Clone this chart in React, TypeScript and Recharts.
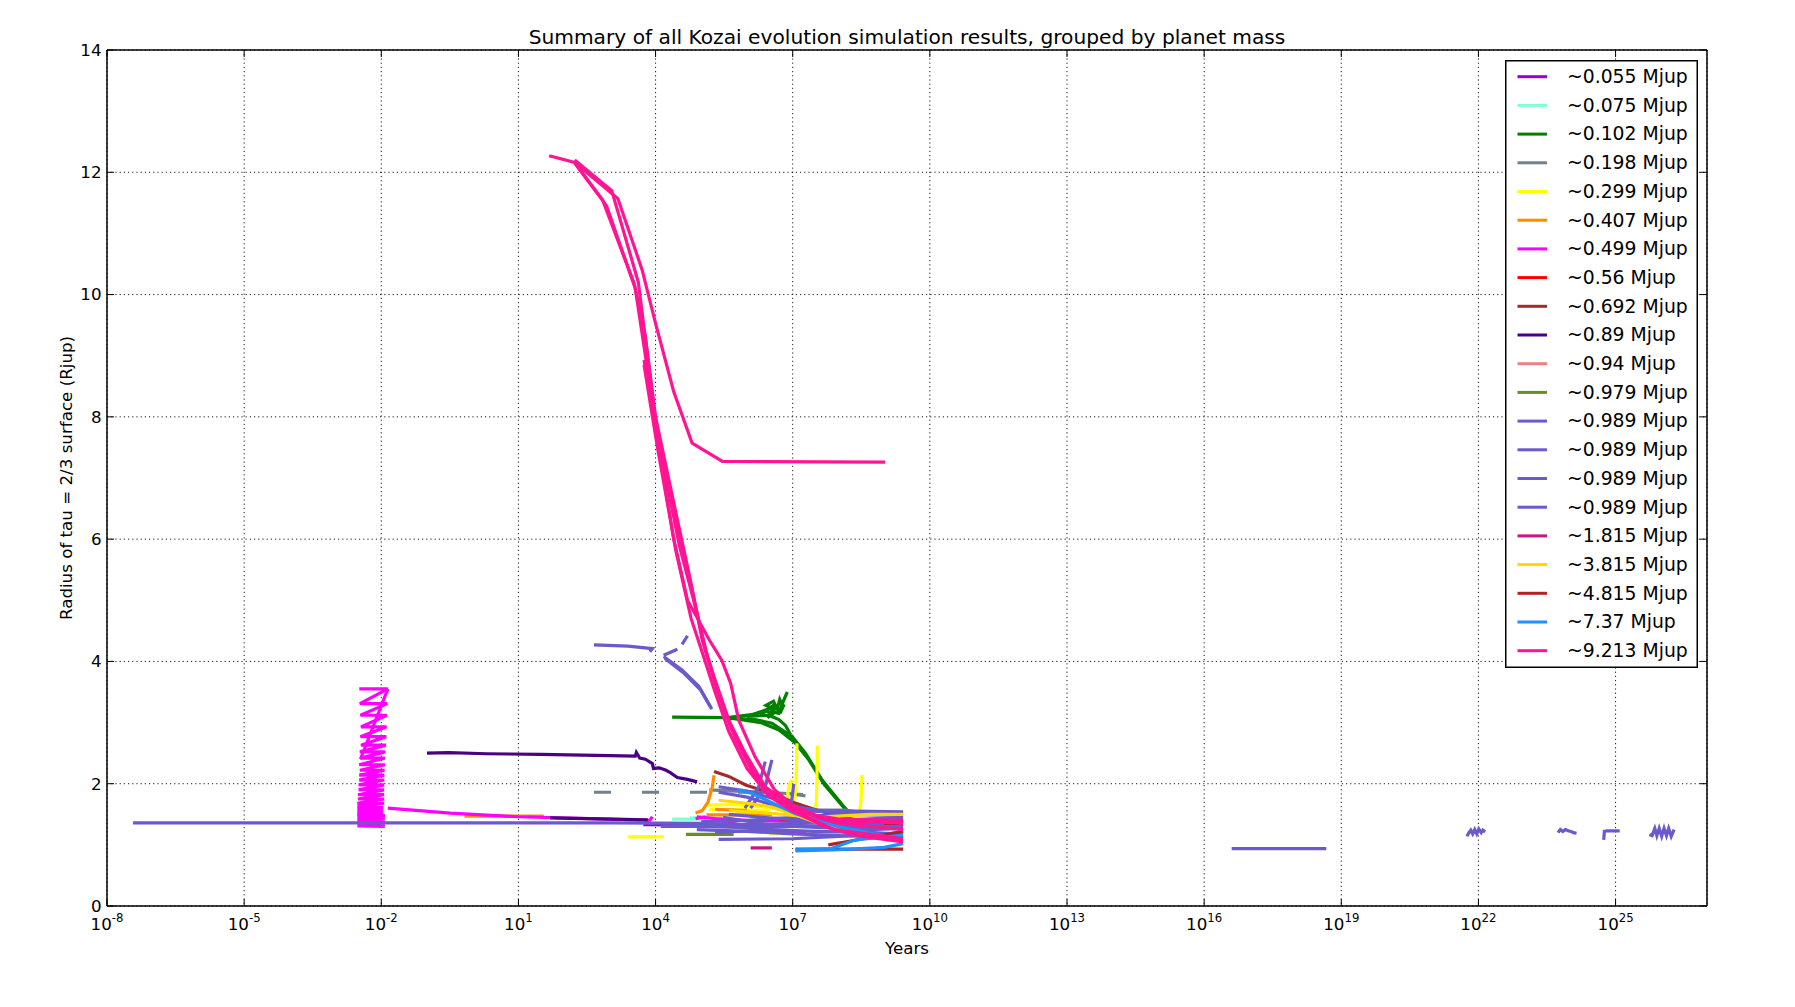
import React from "react";
import { LineChart, Line, XAxis, YAxis, CartesianGrid, Legend, Label } from "recharts";

// ---------- layout (not data) ----------
const W = 1795;
const H = 1007;
const PLOT_LEFT = 107;
const PLOT_TOP = 50;
const PLOT_RIGHT = 1707;
const PLOT_BOTTOM = 906;
const FONT = "'DejaVu Sans', 'Bitstream Vera Sans', sans-serif";

// ---------- axes ----------
const X_DOMAIN: [number, number] = [1e-8, 1e27];
const X_TICKS = [1e-8, 1e-5, 1e-2, 1e1, 1e4, 1e7, 1e10, 1e13, 1e16, 1e19, 1e22, 1e25];
const Y_DOMAIN: [number, number] = [0, 14];
const Y_TICKS = [0, 2, 4, 6, 8, 10, 12, 14];

const TITLE = "Summary of all Kozai evolution simulation results, grouped by planet mass";
const X_LABEL = "Years";
const Y_LABEL = "Radius of tau = 2/3 surface (Rjup)";

// ---------- legend ----------
const LEGEND_LABELS = [
  "~0.055 Mjup", "~0.075 Mjup", "~0.102 Mjup", "~0.198 Mjup", "~0.299 Mjup",
  "~0.407 Mjup", "~0.499 Mjup", "~0.56 Mjup", "~0.692 Mjup", "~0.89 Mjup",
  "~0.94 Mjup", "~0.979 Mjup", "~0.989 Mjup", "~0.989 Mjup", "~0.989 Mjup",
  "~0.989 Mjup", "~1.815 Mjup", "~3.815 Mjup", "~4.815 Mjup", "~7.37 Mjup",
  "~9.213 Mjup",
];
const LEGEND_COLORS = [
  "#9400D3", "#7FFFD4", "#008000", "#708090", "#FFFF00",
  "#FF8C00", "#FF00FF", "#FF0000", "#A52A2A", "#4B0082",
  "#F08080", "#6B8E23", "#6A5ACD", "#6A5ACD", "#6A5ACD",
  "#6A5ACD", "#C71585", "#FFD700", "#B22222", "#1E90FF",
  "#FF1493",
];

type Pt = [number, number]; // [years, radius in Rjup]

// ---------- series (years, Rjup) ----------
const M0055: Pt[][] = [
  [[5.4e3, 1.33], [5.4e5, 1.32]],
];
const M0075: Pt[][] = [
  [[2.3e4, 1.42], [1.3e5, 1.42]],
  [[5.5e4, 1.44], [1.1e5, 1.44]],
];
const M0102: Pt[][] = [
  [[2.3e4, 3.09], [4e5, 3.08], [1.5e6, 3.14], [3e6, 3.22], [4e6, 3.3], [3.4e6, 3.18], [5e6, 3.15], [6e6, 3.32], [7.6e6, 3.5]],
  [[4e5, 3.08], [1.2e6, 3.12], [2.5e6, 3.2], [3.6e6, 3.14], [2.8e6, 3.08], [4.5e6, 3.26], [5.5e6, 3.18], [6.5e6, 3.3], [5.8e6, 3.22]],
  [[4e5, 3.07], [1.5e6, 3.05], [3.5e6, 2.99], [9.8e6, 2.77], [1.9e7, 2.5], [4.4e7, 2.06], [1.4e8, 1.6], [1.8e8, 1.52]],
  [[4e5, 3.08], [2e6, 3.0], [5e6, 2.88], [1.1e7, 2.68], [2.2e7, 2.4], [5e7, 1.98], [1.5e8, 1.56]],
  [[1e6, 3.1], [3e6, 3.12], [5e6, 3.05], [7e6, 2.95], [9e6, 2.8]],
  [[2e6, 3.12], [3.2e6, 3.25], [2.6e6, 3.28], [3.8e6, 3.35], [4.6e6, 3.22], [5.2e6, 3.38], [6.2e6, 3.25]],
];
const M0198_DASHED: Pt[][] = [
  [[4.5e2, 1.86], [1.3e5, 1.86], [2e6, 1.86], [2e7, 1.82]],
];
const M0198: Pt[][] = [
  [[1.5e5, 1.9], [1e6, 1.87], [8e6, 1.84], [1.9e7, 1.8]],
  [[1e7, 1.7], [3e7, 1.57], [1.4e8, 1.57], [6e8, 1.5]],
];
const M0299: Pt[][] = [
  [[2.5e3, 1.13], [1.5e4, 1.13]],
  [[1.3e5, 1.65], [5e5, 1.66], [2e6, 1.62], [6e6, 1.58]],
  [[1.5e5, 1.58], [8e5, 1.58], [3e6, 1.55]],
  [[3e6, 1.18], [5e7, 1.2], [3e8, 1.22]],
  [[8.2e6, 1.73], [7.8e6, 1.85], [8.6e6, 2.0], [9.8e6, 2.06]],
  [[9e6, 1.5], [1.05e7, 1.62], [1.18e7, 1.95], [1.24e7, 2.66]],
  [[3.0e7, 1.52], [3.3e7, 1.7], [3.4e7, 2.1], [3.45e7, 2.62]],
  [[2.9e8, 1.55], [3.1e8, 1.7], [3.2e8, 1.9], [3.25e8, 2.14]],
];
const M0407: Pt[][] = [
  [[6.6e-1, 1.47], [3.6e1, 1.47]],
  [[7.5e4, 1.52], [1.05e5, 1.56], [1.4e5, 1.7], [1.75e5, 1.95], [1.9e5, 2.14]],
  [[1.3e5, 1.49], [3.5e6, 1.49]],
  [[2e5, 1.58], [1e6, 1.56]],
];
const M0499: Pt[][] = [
  [
    [3.3e-3, 3.55], [1.39e-2, 3.55], [3.4e-3, 3.31], [1.35e-2, 3.31], [3.5e-3, 3.12], [1.32e-2, 3.12],
    [3.6e-3, 2.93], [1.3e-2, 2.93], [3.5e-3, 2.77], [1.28e-2, 2.77], [3.6e-3, 2.63], [1.26e-2, 2.63],
    [3.4e-3, 2.52], [1.22e-2, 2.52], [3.5e-3, 2.42], [1.2e-2, 2.42], [3.3e-3, 2.31], [1.2e-2, 2.31],
    [3.4e-3, 2.22], [1.18e-2, 2.22], [3.3e-3, 2.14], [1.16e-2, 2.14], [3.3e-3, 2.06], [1.16e-2, 2.06],
    [3.2e-3, 1.98], [1.15e-2, 1.98], [3.2e-3, 1.9], [1.15e-2, 1.9], [3.1e-3, 1.82], [1.15e-2, 1.82],
    [3.1e-3, 1.75], [1.15e-2, 1.75], [3.0e-3, 1.68], [1.15e-2, 1.68], [3.0e-3, 1.62], [1.1e-2, 1.61],
    [3.0e-3, 1.58], [1.1e-2, 1.57], [3.0e-3, 1.54], [1.1e-2, 1.53], [3.0e-3, 1.5],
  ],
  [
    [3.0e-3, 1.49], [1.2e-2, 1.48], [3.0e-3, 1.46], [1.2e-2, 1.45], [3.0e-3, 1.43], [1.2e-2, 1.42],
    [3.0e-3, 1.4], [1.2e-2, 1.39], [3.0e-3, 1.37], [1.2e-2, 1.36], [3.0e-3, 1.34], [1.2e-2, 1.33],
    [3.0e-3, 1.31], [1.2e-2, 1.3],
  ],
  [[1.39e-2, 3.55], [3.5e-3, 2.4]],
  [[1.39e-2, 1.6], [3.2e-1, 1.52], [1e1, 1.46], [1e3, 1.42], [7.5e3, 1.4], [8.5e3, 1.46]],
  [[7.5e4, 1.43], [1.26e5, 1.46]],
  [[8e4, 1.46], [2e5, 1.43], [1e6, 1.4], [5e6, 1.39], [3e7, 1.37], [5e8, 1.36], [2.6e9, 1.35]],
  [[2e5, 1.42], [1e6, 1.3], [5e6, 1.22], [2e7, 1.2]],
];
const M056: Pt[][] = [
  [[5e6, 1.42], [5e7, 1.4], [5e8, 1.38]],
];
const M0692: Pt[][] = [
  [[1.9e5, 2.2], [4e5, 2.12], [9.3e5, 1.98], [3.5e6, 1.84], [1.15e7, 1.68], [4e7, 1.55], [2e8, 1.42], [2.6e9, 1.3]],
];
const M089: Pt[][] = [
  [[1e-1, 2.5], [3e-1, 2.51], [2e0, 2.49], [3e1, 2.48], [1e3, 2.46], [3.6e3, 2.45], [3.8e3, 2.51], [4.5e3, 2.42],
   [6e3, 2.4], [8.5e3, 2.33], [9e3, 2.25], [1.2e4, 2.26], [1.7e4, 2.22], [2.1e4, 2.18], [3e4, 2.1], [5e4, 2.07], [8.1e4, 2.03]],
  [[4.9e1, 1.44], [1e3, 1.42], [6.8e3, 1.41]],
];
const M094: Pt[][] = [
  [[3e5, 1.3], [3e6, 1.28]],
];
const M0979: Pt[][] = [
  [[4.6e4, 1.17], [5.1e5, 1.17]],
];
const M0989: Pt[][] = [
  [[3.7e-8, 1.36], [1e3, 1.36], [1e5, 1.35], [1e6, 1.33], [1e7, 1.32], [1e8, 1.3], [2.6e9, 1.3]],
  [[4.5e2, 4.27], [2.5e3, 4.25], [8.5e3, 4.21], [7.5e3, 4.16]],
  [[1.5e4, 4.1], [3.0e4, 4.2]],
  [[3.8e4, 4.28], [5.0e4, 4.42]],
  [[1.5e4, 4.08], [3.8e4, 3.86], [8.9e4, 3.59], [1.7e5, 3.22]],
  [[1.6e4, 4.05], [4e4, 3.82], [9.5e4, 3.54], [1.6e5, 3.25]],
  [[2.4e5, 1.95], [1e6, 1.88], [4e6, 1.75], [1.2e7, 1.62], [4e7, 1.56], [2.6e9, 1.54]],
  [[2.4e5, 1.86], [1e6, 1.78], [5e6, 1.62], [2e7, 1.55], [2.6e9, 1.52]],
  [[1e5, 1.38], [1e6, 1.4], [1e7, 1.45], [1e8, 1.5], [2.6e9, 1.48]],
  [[1.3e5, 1.3], [1e6, 1.32], [1e7, 1.35], [1e8, 1.4], [2.6e9, 1.45]],
  [[8e4, 1.25], [1e6, 1.22], [1e7, 1.18], [1e8, 1.15], [2.6e9, 1.12]],
  [[2.4e5, 1.09], [1e7, 1.1], [1e8, 1.14], [2.6e9, 1.2]],
  [[1.3e4, 1.3], [1e5, 1.3], [1e6, 1.28], [1e7, 1.3], [1e9, 1.33]],
  [[3e5, 1.45], [2e6, 1.35], [1e7, 1.3], [5e8, 1.25], [2.6e9, 1.27]],
  [[4e5, 1.5], [3e6, 1.44], [2e7, 1.4], [3e8, 1.38], [2.6e9, 1.4]],
  [[2e5, 1.2], [3e6, 1.25], [3e7, 1.22], [6e8, 1.2], [2.6e9, 1.17]],
  [[9e5, 1.6], [1.8e6, 1.95], [2.5e6, 2.36]],
  [[1.2e6, 1.6], [2.5e6, 1.95], [3.5e6, 2.39]],
  [[9e6, 1.6], [1e7, 1.85], [1.05e7, 2.0]],
  [[4e16, 0.94], [4.7e18, 0.94]],
  [[5.6e21, 1.14], [6.2e21, 1.2], [6.8e21, 1.24], [7.5e21, 1.18], [8.3e21, 1.25], [9.2e21, 1.18], [1.02e22, 1.26], [1.15e22, 1.2], [1.25e22, 1.24], [1.4e22, 1.21]],
  [[5.5e23, 1.2], [6.2e23, 1.25], [7e23, 1.22], [8e23, 1.25], [9.2e23, 1.23], [1.05e24, 1.22], [1.2e24, 1.2], [1.4e24, 1.19]],
  [[5.5e24, 1.08], [5.7e24, 1.22], [6.5e24, 1.23], [1.23e25, 1.23]],
  [[5.5e25, 1.17], [6.3e25, 1.15], [7.2e25, 1.27], [8e25, 1.15], [9e25, 1.27], [1.02e26, 1.14], [1.15e26, 1.27], [1.3e26, 1.15], [1.45e26, 1.27], [1.65e26, 1.14], [1.9e26, 1.25]],
];
const M1815: Pt[][] = [
  [[1.2e6, 0.95], [3.5e6, 0.95]],
];
const M3815: Pt[][] = [
  [[2.4e5, 1.73], [1e6, 1.68], [3.5e6, 1.62], [1.15e7, 1.49], [1e8, 1.24], [2.4e9, 1.08]],
  [[4e5, 1.56], [3e6, 1.52], [3e7, 1.45], [5e8, 1.5], [2.6e9, 1.5]],
];
const M4815: Pt[][] = [
  [[1.15e7, 0.93], [2.6e9, 0.93]],
  [[6e7, 1.0], [2.5e8, 1.08], [2.6e9, 1.22]],
];
const M737: Pt[][] = [
  [[1.15e7, 0.92], [7e7, 0.94], [2.3e8, 1.08], [2.6e9, 1.16]],
  [[1.15e7, 0.9], [1e8, 0.92], [1e9, 0.96], [2.6e9, 1.02]],
  [[6e5, 1.9], [1.3e6, 1.84], [1.15e7, 1.51], [1e8, 1.3], [2.5e9, 1.08]],
];
const M9213: Pt[][] = [
  [[4.7e1, 12.27], [1.7e2, 12.16], [1.5e3, 11.57], [5.1e3, 10.4], [1e4, 9.53], [2.5e4, 8.41], [6.3e4, 7.57], [2.9e5, 7.27], [1.05e9, 7.26]],
  [[1.7e2, 12.16], [6.9e2, 11.55], [3.4e3, 10.18], [6e3, 9.31], [1e4, 8.0], [2.7e4, 6.48], [6.3e4, 5.2], [1.05e5, 4.35], [2e5, 3.7], [4e5, 3.04], [9.1e5, 2.5], [2.5e6, 1.95], [1e7, 1.62], [3.2e7, 1.45], [1e8, 1.35], [1e9, 1.28], [2.6e9, 1.25]],
  [[1.7e2, 12.15], [8.5e2, 11.45], [3.6e3, 10.1], [1e4, 7.9], [3e4, 6.2], [7e4, 5.0], [1.2e5, 4.2], [2.2e5, 3.55], [4.5e5, 2.9], [1e6, 2.4], [3e6, 1.85], [1e7, 1.55], [5e7, 1.3], [2.5e8, 1.15], [2.6e9, 1.05]],
  [[1.7e2, 12.2], [1.1e3, 11.7], [4.2e3, 10.2], [1.1e4, 7.7], [3.3e4, 5.9], [8e4, 4.8], [1.4e5, 4.05], [2.6e5, 3.4], [5.5e5, 2.75], [1.3e6, 2.2], [4e6, 1.75], [1.5e7, 1.5], [8e7, 1.25], [2.6e9, 1.1]],
  [[5.6e3, 8.93], [1e4, 7.8], [2.5e4, 6.0], [5e4, 5.0], [1.5e5, 4.35], [2.8e5, 4.02], [4.4e5, 3.64], [6.6e5, 3.04], [1.5e6, 2.44], [4e6, 1.9], [1e7, 1.65], [4e7, 1.45], [2e8, 1.38], [2.6e9, 1.36]],
  [[5.6e3, 8.85], [1.1e4, 7.5], [2.8e4, 5.8], [6e4, 4.7], [1.1e5, 4.1], [2e5, 3.5], [4e5, 2.85], [1e6, 2.25], [3e6, 1.8], [1e7, 1.55], [1e8, 1.42], [2.6e9, 1.4]],
];

// group table (built from the arrays above), in plotting order
const GROUPS: { color: string; traces: Pt[][]; dash?: string }[] = [
  { color: LEGEND_COLORS[0], traces: M0055 },
  { color: LEGEND_COLORS[1], traces: M0075 },
  { color: LEGEND_COLORS[2], traces: M0102 },
  { color: LEGEND_COLORS[3], traces: M0198_DASHED, dash: "17 31" },
  { color: LEGEND_COLORS[3], traces: M0198 },
  { color: LEGEND_COLORS[4], traces: M0299 },
  { color: LEGEND_COLORS[5], traces: M0407 },
  { color: LEGEND_COLORS[6], traces: M0499 },
  { color: LEGEND_COLORS[7], traces: M056 },
  { color: LEGEND_COLORS[8], traces: M0692 },
  { color: LEGEND_COLORS[9], traces: M089 },
  { color: LEGEND_COLORS[10], traces: M094 },
  { color: LEGEND_COLORS[11], traces: M0979 },
  { color: LEGEND_COLORS[12], traces: M0989 },
  { color: LEGEND_COLORS[16], traces: M1815 },
  { color: LEGEND_COLORS[17], traces: M3815 },
  { color: LEGEND_COLORS[18], traces: M4815 },
  { color: LEGEND_COLORS[19], traces: M737 },
  { color: LEGEND_COLORS[20], traces: M9213 },
];

const SERIES = GROUPS.flatMap((g, gi) =>
  g.traces.map((t, ti) => ({
    key: `s-${gi}-${ti}`,
    color: g.color,
    dash: g.dash,
    data: t.map(([x, y]) => ({ x, y })),
  }))
);

// ---------- ticks ----------
const TICK_LEN = 7;

const BottomTick = (props: any) => {
  const { x, y, payload } = props;
  const e = Math.round(Math.log10(payload.value));
  return (
    <g>
      <line x1={x} x2={x} y1={y} y2={y - TICK_LEN} stroke="#000" strokeWidth={1} />
      <text x={x} y={y + 24} textAnchor="middle" fontFamily={FONT} fontSize={16.7} fill="#000">
        <tspan>10</tspan>
        <tspan dy={-8} fontSize={11.7}>{String(e)}</tspan>
      </text>
    </g>
  );
};

const TopTick = (props: any) => {
  const { x, y } = props;
  return <line x1={x} x2={x} y1={y} y2={y + TICK_LEN} stroke="#000" strokeWidth={1} />;
};

const LeftTick = (props: any) => {
  const { x, y, payload } = props;
  return (
    <g>
      <line x1={x} x2={x + TICK_LEN} y1={y} y2={y} stroke="#000" strokeWidth={1} />
      <text x={x - 5.5} y={y} dy="0.35em" textAnchor="end" fontFamily={FONT} fontSize={16.7} fill="#000">
        {String(payload.value)}
      </text>
    </g>
  );
};

const RightTick = (props: any) => {
  const { x, y } = props;
  return <line x1={x} x2={x - TICK_LEN} y1={y} y2={y} stroke="#000" strokeWidth={1} />;
};

// ---------- labels ----------
const TitleLabel = () => (
  <text x={(PLOT_LEFT + PLOT_RIGHT) / 2} y={PLOT_TOP - 6} textAnchor="middle" fontFamily={FONT} fontSize={20.2} fill="#000">
    {TITLE}
  </text>
);
const XLabel = () => (
  <text x={(PLOT_LEFT + PLOT_RIGHT) / 2} y={PLOT_BOTTOM + 48} textAnchor="middle" fontFamily={FONT} fontSize={16.7} fill="#000">
    {X_LABEL}
  </text>
);
const YLabel = () => {
  const cx = 72;
  const cy = (PLOT_TOP + PLOT_BOTTOM) / 2;
  return (
    <text x={cx} y={cy} transform={`rotate(-90, ${cx}, ${cy})`} textAnchor="middle" fontFamily={FONT} fontSize={16.7} fill="#000">
      {Y_LABEL}
    </text>
  );
};

// ---------- legend ----------
const LEG_W = 193;
const LEG_H = 608;
const LEG_ROW = 28.7;
const renderLegend = () => (
  <svg width={LEG_W} height={LEG_H} style={{ display: "block" }}>
    <rect x={0.75} y={0.75} width={LEG_W - 1.5} height={LEG_H - 1.5} fill="#fff" stroke="#000" strokeWidth={1.5} />
    {LEGEND_LABELS.map((lab, i) => {
      const cy = 16.7 + i * LEG_ROW;
      return (
        <g key={`leg-${i}`}>
          <line x1={12.5} x2={42} y1={cy} y2={cy} stroke={LEGEND_COLORS[i]} strokeWidth={3} />
          <text x={62} y={cy + 6.3} fontFamily={FONT} fontSize={18.8} fill="#000">
            {lab}
          </text>
        </g>
      );
    })}
  </svg>
);

export default function App() {
  return (
    <div style={{ position: "absolute", left: 0, top: 0, width: W, height: H, background: "#fff", overflow: "hidden" }}>
      <LineChart
        width={W}
        height={H}
        margin={{ top: PLOT_TOP - 10, right: W - PLOT_RIGHT - 10, bottom: H - PLOT_BOTTOM - 60, left: PLOT_LEFT - 60 }}
      >
        <CartesianGrid stroke="#000" strokeDasharray="1.2 3" strokeWidth={0.9} />
        <XAxis
          dataKey="x"
          type="number"
          scale="log"
          domain={X_DOMAIN}
          allowDataOverflow
          ticks={X_TICKS}
          interval={0}
          height={60}
          tickSize={0}
          tickMargin={0}
          tickLine={false}
          tick={(p: any) => <BottomTick {...p} />}
          axisLine={{ stroke: "#000", strokeWidth: 1.5 }}
        >
          <Label content={XLabel} />
        </XAxis>
        <XAxis
          xAxisId="top"
          orientation="top"
          dataKey="x"
          type="number"
          scale="log"
          domain={X_DOMAIN}
          allowDataOverflow
          ticks={X_TICKS}
          interval={0}
          height={10}
          tickSize={0}
          tickMargin={0}
          tickLine={false}
          tick={(p: any) => <TopTick {...p} />}
          axisLine={{ stroke: "#000", strokeWidth: 1.5 }}
        >
          <Label content={TitleLabel} />
        </XAxis>
        <YAxis
          type="number"
          domain={Y_DOMAIN}
          allowDataOverflow
          ticks={Y_TICKS}
          interval={0}
          width={60}
          tickSize={0}
          tickMargin={0}
          tickLine={false}
          tick={(p: any) => <LeftTick {...p} />}
          axisLine={{ stroke: "#000", strokeWidth: 1.5 }}
        >
          <Label content={YLabel} />
        </YAxis>
        <YAxis
          yAxisId="right"
          orientation="right"
          type="number"
          domain={Y_DOMAIN}
          allowDataOverflow
          ticks={Y_TICKS}
          interval={0}
          width={10}
          tickSize={0}
          tickMargin={0}
          tickLine={false}
          tick={(p: any) => <RightTick {...p} />}
          axisLine={{ stroke: "#000", strokeWidth: 1.5 }}
        />
        {SERIES.map((s) => (
          <Line
            key={s.key}
            data={s.data}
            dataKey="y"
            type="linear"
            stroke={s.color}
            strokeWidth={3.2}
            strokeDasharray={s.dash}
            dot={false}
            activeDot={false}
            legendType="none"
            isAnimationActive={false}
          />
        ))}
        <Legend
          content={renderLegend}
          layout="vertical"
          align="center"
          verticalAlign="middle"
          wrapperStyle={{ left: 1505, top: 60, width: LEG_W, height: LEG_H }}
        />
      </LineChart>
    </div>
  );
}
